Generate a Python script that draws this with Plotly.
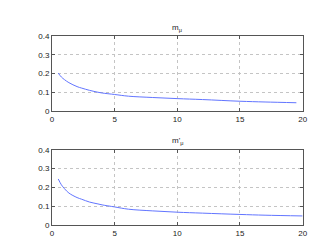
import plotly.graph_objects as go

x_top = [0.5, 0.75, 1, 1.35, 2, 2.37, 3, 3.67, 4, 5, 6.1, 8, 10, 12, 15, 17, 19.5]
m_mu = [0.203, 0.182, 0.168, 0.152, 0.131, 0.123, 0.111, 0.101, 0.097, 0.089, 0.080, 0.073, 0.067, 0.062, 0.053, 0.049, 0.045]

x_bot = [0.5, 0.75, 1, 1.35, 2, 2.37, 3, 3.67, 4, 5, 6.1, 8, 10, 12, 15, 17, 20]
m_mu_p = [0.245, 0.214, 0.193, 0.170, 0.146, 0.137, 0.122, 0.112, 0.107, 0.096, 0.084, 0.075, 0.068, 0.063, 0.056, 0.052, 0.048]

x_ticks = [0, 5, 10, 15, 20]
y_ticks = [0, 0.1, 0.2, 0.3, 0.4]
y_tick_text = ["0", "0.1", "0.2", "0.3", "0.4"]

fig = go.Figure()
fig.add_trace(go.Scatter(x=x_top, y=m_mu, mode="lines", line=dict(color="#6275ff", width=1, shape="spline"),
                         xaxis="x", yaxis="y", showlegend=False))
fig.add_trace(go.Scatter(x=x_bot, y=m_mu_p, mode="lines", line=dict(color="#6275ff", width=1, shape="spline"),
                         xaxis="x2", yaxis="y2", showlegend=False))

axis_common = dict(showline=True, linecolor="#555", linewidth=1, mirror="ticks", ticks="inside",
                   ticklen=3, tickcolor="#555", showgrid=True, gridcolor="#c4c4c4", griddash="dot",
                   gridwidth=1, zeroline=False, tickfont=dict(family="Liberation Sans, Arial", size=8, color="#222"))

fig.update_layout(
    width=330, height=248,
    margin=dict(l=0, r=0, t=0, b=0),
    paper_bgcolor="white", plot_bgcolor="white",
    xaxis=dict(domain=[0.130, 0.906], range=[0, 20], tickvals=x_ticks, anchor="y", **axis_common),
    yaxis=dict(domain=[0.585, 0.899], range=[0, 0.4], tickvals=y_ticks, ticktext=y_tick_text, anchor="x", **axis_common),
    xaxis2=dict(domain=[0.130, 0.906], range=[0, 20], tickvals=x_ticks, anchor="y2", **axis_common),
    yaxis2=dict(domain=[0.109, 0.423], range=[0, 0.4], tickvals=y_ticks, ticktext=y_tick_text, anchor="x2", **axis_common),
    annotations=[
        dict(text="m<sub>μ</sub>", x=0.518, y=0.905, xref="paper", yref="paper", xanchor="center", yanchor="bottom",
             showarrow=False, font=dict(family="Liberation Sans, Arial", size=8, color="#222")),
        dict(text="m'<sub>μ</sub>", x=0.518, y=0.429, xref="paper", yref="paper", xanchor="center", yanchor="bottom",
             showarrow=False, font=dict(family="Liberation Sans, Arial", size=8, color="#222")),
    ],
)

fig.write_html("out.html")
